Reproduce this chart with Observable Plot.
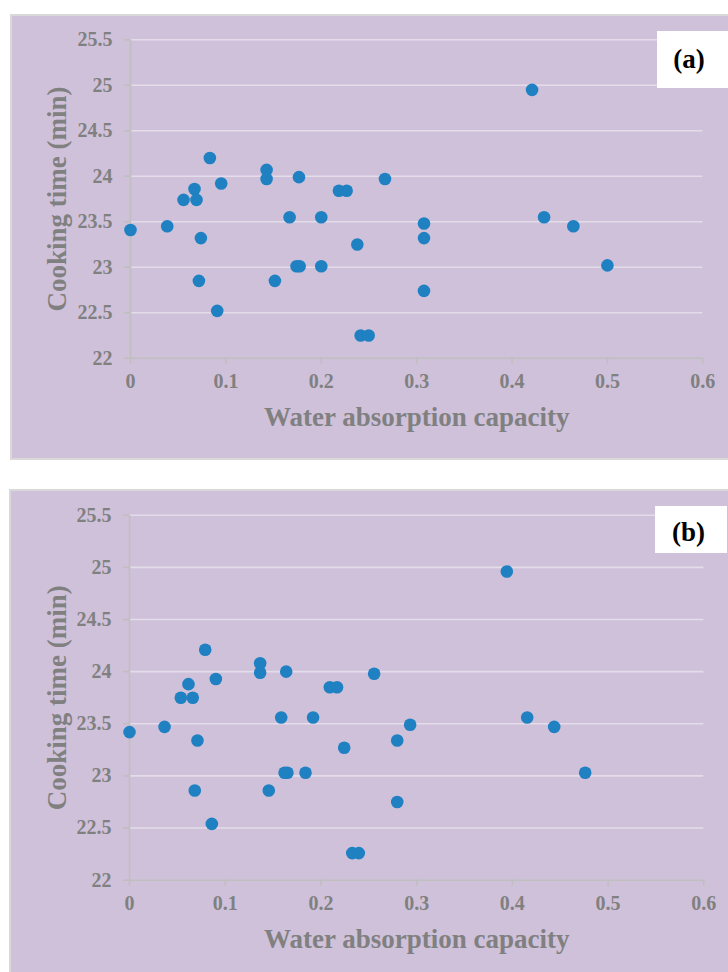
<!DOCTYPE html>
<html>
<head>
<meta charset="utf-8">
<script src="https://cdn.jsdelivr.net/npm/d3@7"></script>
<script src="https://cdn.jsdelivr.net/npm/@observablehq/plot@0.6"></script>
<style>
html, body { margin: 0; padding: 0; background: #ffffff; overflow: hidden; }
.page { position: relative; width: 728px; height: 972px; overflow: hidden; }
.frame { position: absolute; background: #cfc1da; border: 2px solid #d9d9d9; box-sizing: border-box; }
.holder { position: absolute; left: 0; width: 728px; height: 486px; }
.holder svg text { font-weight: bold; }
.tag { position: absolute; background: #ffffff; font-family: "Liberation Serif", "Times New Roman", serif; font-weight: bold; font-size: 27px; color: #000000; display: flex; align-items: center; justify-content: center; box-sizing: border-box; }
</style>
</head>
<body>
<div class="page">
  <div class="frame" style="left:10px; top:14px; width:720px; height:446px;"></div>
  <div class="frame" style="left:9px; top:489px; width:721px; height:486px;"></div>
  <div class="holder" id="pa" style="top:0px;"></div>
  <div class="holder" id="pb" style="top:486px;"></div>
  <div class="tag" style="left:657px; top:31px; width:75px; height:57px; padding-right:11px;">(a)</div>
  <div class="tag" style="left:655px; top:506px; width:72px; height:47px; padding-right:5px; padding-top:6px;">(b)</div>
</div>
<script>
// Panel (a): water absorption capacity vs cooking time
const wacA = [0, 0.0385, 0.0556, 0.0671, 0.0692, 0.0832, 0.0951, 0.0738, 0.0717, 0.0909,
  0.1427, 0.1427, 0.1766, 0.1668, 0.2000, 0.2185, 0.2266, 0.2378, 0.1741, 0.1773,
  0.2000, 0.1514, 0.2413, 0.2497, 0.2668, 0.3077, 0.3077, 0.3077, 0.4210, 0.4336,
  0.4643, 0.5000];
const timeA = [23.41, 23.45, 23.74, 23.86, 23.74, 24.20, 23.92, 23.32, 22.85, 22.52,
  24.07, 23.97, 23.99, 23.55, 23.55, 23.84, 23.84, 23.25, 23.01, 23.01,
  23.01, 22.85, 22.25, 22.25, 23.97, 23.48, 23.32, 22.74, 24.95, 23.55,
  23.45, 23.02];

// Panel (b)
const wacB = [0, 0.0366, 0.0536, 0.0616, 0.0661, 0.0791, 0.0902, 0.0710, 0.0682, 0.0860,
  0.1365, 0.1365, 0.1637, 0.1585, 0.1918, 0.2093, 0.2168, 0.2243, 0.1620, 0.1650,
  0.1839, 0.1455, 0.2327, 0.2396, 0.2556, 0.2932, 0.2797, 0.2797, 0.3942, 0.4155,
  0.4437, 0.4761];
const timeB = [23.42, 23.47, 23.75, 23.88, 23.75, 24.21, 23.93, 23.34, 22.86, 22.54,
  24.08, 23.99, 24.00, 23.56, 23.56, 23.85, 23.85, 23.27, 23.03, 23.03,
  23.03, 22.86, 22.26, 22.26, 23.98, 23.49, 23.34, 22.75, 24.96, 23.56,
  23.47, 23.03];

const xTicks = [0, 0.1, 0.2, 0.3, 0.4, 0.5, 0.6];
const yTicks = [22, 22.5, 23, 23.5, 24, 24.5, 25, 25.5];
const xLabel = "Water absorption capacity";
const yLabel = "Cooking time (min)";

function panel(wac, time, m) {
  const data = wac.map((w, i) => ({w, t: time[i]}));
  const grid = yTicks.slice(1);
  return Plot.plot({
    width: 728,
    height: 486,
    marginLeft: m.left,
    marginRight: m.right,
    marginTop: m.top,
    marginBottom: m.bottom,
    style: {background: "none", overflow: "visible", fontFamily: "'Liberation Serif', 'Times New Roman', serif", fontWeight: "bold"},
    x: {domain: [0, 0.6], axis: null},
    y: {domain: [22, 25.5], axis: null},
    marks: [
      Plot.ruleY(grid, {x1: 0, x2: 0.6, stroke: "#e4dde9", strokeWidth: 1.6}),
      Plot.ruleY([22], {x1: 0, x2: 0.6, stroke: "#bfbfbf", strokeWidth: 1.6}),
      Plot.ruleX([0], {y1: 22, y2: 25.5, stroke: "#bfbfbf", strokeWidth: 1.6}),
      Plot.axisX({ticks: xTicks, tickFormat: d => String(d), tickSize: 6, tickPadding: 10,
        stroke: "#bfbfbf", strokeWidth: 1.6, fill: "#808080", fontSize: 20, fontWeight: "bold", label: null}),
      Plot.axisY({ticks: yTicks, tickFormat: d => String(d), tickSize: 6, tickPadding: 12,
        stroke: "#bfbfbf", strokeWidth: 1.6, fill: "#808080", fontSize: 20, fontWeight: "bold", label: null}),
      Plot.dot(data, {x: "w", y: "t", r: 6.3, fill: "#1f81c2", stroke: "none"}),
      Plot.text([xLabel], {frameAnchor: "bottom", textAnchor: "middle", lineAnchor: "middle", dy: 59, fontSize: 27, fontWeight: "bold", fill: "#808080"}),
      Plot.text([yLabel], {frameAnchor: "left", textAnchor: "middle", lineAnchor: "middle", rotate: -90, dx: 56.4 - m.left, fontSize: 27, fontWeight: "bold", fill: "#808080"})
    ]
  });
}

document.getElementById("pa").appendChild(panel(wacA, timeA, {left: 130, right: 25.7, top: 39.3, bottom: 128.3}));
document.getElementById("pb").appendChild(panel(wacB, timeB, {left: 129, right: 24.7, top: 28.7, bottom: 92.3}));
</script>
</body>
</html>
